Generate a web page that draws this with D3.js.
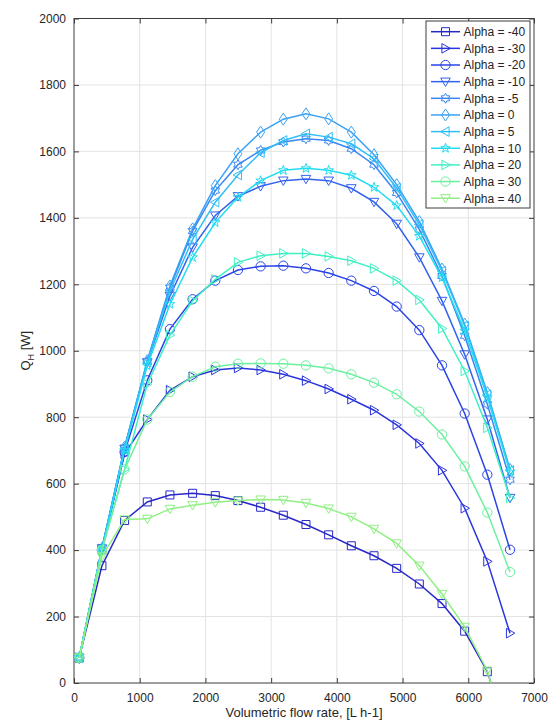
<!DOCTYPE html>
<html>
<head>
<meta charset="utf-8">
<script src="https://cdn.jsdelivr.net/npm/d3@7"></script>
<style>
  body { margin: 0; background: #fff; }
  svg { display: block; font-family: "Liberation Sans", Arial, sans-serif; }
</style>
</head>
<body>
<div id="chart"></div>
<script>
// flow rate points, L/h
const flow = [80, 425, 770, 1115, 1460, 1805, 2150, 2495, 2840, 3185, 3530, 3875, 4220, 4565, 4910, 5255, 5600, 5945, 6290, 6635];

// heat output Q_H [W] per alpha
const alphas = [-40, -30, -20, -10, -5, 0, 5, 10, 20, 30, 40];
const qM40 = [76, 353, 489, 545, 566, 571, 564, 549, 529, 505, 477, 446, 413, 383, 345, 298, 239, 156, 34, -175];
const qM30 = [76, 403, 690, 793, 881, 922, 942, 948, 942, 929, 910, 885, 854, 821, 777, 721, 640, 526, 366, 150];
const qM20 = [76, 400, 695, 911, 1065, 1155, 1211, 1243, 1254, 1256, 1248, 1234, 1211, 1180, 1133, 1062, 956, 811, 627, 401];
const qM10 = [76, 405, 705, 965, 1165, 1311, 1407, 1465, 1495, 1512, 1517, 1512, 1489, 1448, 1382, 1281, 1150, 989, 793, 557];
const qM5 = [76, 405, 708, 968, 1190, 1360, 1482, 1560, 1603, 1628, 1638, 1633, 1608, 1560, 1475, 1365, 1225, 1045, 839, 612];
const q0 = [76, 405, 710, 970, 1195, 1367, 1497, 1593, 1658, 1697, 1713, 1698, 1658, 1590, 1500, 1389, 1246, 1080, 874, 643];
const qP5 = [76, 403, 705, 965, 1180, 1335, 1447, 1529, 1596, 1633, 1653, 1643, 1623, 1578, 1490, 1380, 1240, 1075, 868, 640];
const qP10 = [76, 400, 700, 955, 1140, 1281, 1386, 1462, 1512, 1543, 1549, 1543, 1528, 1492, 1437, 1345, 1220, 1060, 860, 635];
const qP20 = [76, 400, 643, 899, 1047, 1150, 1215, 1266, 1286, 1293, 1293, 1284, 1271, 1248, 1211, 1153, 1067, 939, 768, 557];
const qP30 = [76, 400, 643, 793, 876, 922, 952, 961, 962, 961, 956, 947, 929, 904, 869, 817, 748, 652, 513, 334];
const qP40 = [76, 381, 492, 494, 524, 535, 544, 549, 552, 551, 542, 525, 500, 464, 420, 353, 268, 169, 37, -190];

const xTicks = [0, 1000, 2000, 3000, 4000, 5000, 6000, 7000];
const yTicks = [0, 200, 400, 600, 800, 1000, 1200, 1400, 1600, 1800, 2000];

const series = [
  {a: -40, q: qM40, color: "#2828c8", marker: "square"},
  {a: -30, q: qM30, color: "#2a34dc", marker: "triRight"},
  {a: -20, q: qM20, color: "#2a44e6", marker: "circle"},
  {a: -10, q: qM10, color: "#3262ee", marker: "triDown"},
  {a: -5, q: qM5, color: "#3a86f2", marker: "hexagram"},
  {a: 0, q: q0, color: "#3aa2f6", marker: "diamond"},
  {a: 5, q: qP5, color: "#30bef6", marker: "triLeft"},
  {a: 10, q: qP10, color: "#22dcf0", marker: "pentagram"},
  {a: 20, q: qP20, color: "#40f0c4", marker: "triRight"},
  {a: 30, q: qP30, color: "#6cf0a0", marker: "circle"},
  {a: 40, q: qP40, color: "#90f084", marker: "triDown"}
];

const W = 550, H = 725;
const margin = {top: 18.5, right: 16, bottom: 42, left: 74};
const width = W - margin.left - margin.right,
    height = H - margin.top - margin.bottom;

const svg = d3.select("#chart")
  .append("svg")
    .attr("width", W)
    .attr("height", H);

const g = svg.append("g")
    .attr("transform", `translate(${margin.left}, ${margin.top})`);

const x = d3.scaleLinear().domain([0, 7000]).range([0, width]);
const y = d3.scaleLinear().domain([0, 2000]).range([height, 0]);

// grid
g.append("g").selectAll("line")
  .data(xTicks.slice(1, -1))
  .join("line")
    .attr("x1", d => x(d)).attr("x2", d => x(d))
    .attr("y1", 0).attr("y2", height)
    .attr("stroke", "#e3e3e3");
g.append("g").selectAll("line")
  .data(yTicks.slice(1, -1))
  .join("line")
    .attr("x1", 0).attr("x2", width)
    .attr("y1", d => y(d)).attr("y2", d => y(d))
    .attr("stroke", "#e3e3e3");

// axes (ticks pointing inward, box on)
const axisColor = "#3c3c3c";
const styleAxis = sel => {
  sel.select(".domain").remove();
  sel.selectAll("line").attr("stroke", axisColor);
  sel.selectAll("text").attr("fill", "#262626").style("font-size", "12px");
};
g.append("g")
  .attr("transform", `translate(0, ${height})`)
  .call(d3.axisBottom(x).tickValues(xTicks).tickSize(-5).tickPadding(10).tickFormat(d3.format("d")))
  .call(styleAxis);
g.append("g")
  .call(d3.axisLeft(y).tickValues(yTicks).tickSize(-5).tickPadding(8).tickFormat(d3.format("d")))
  .call(styleAxis);
g.append("g")
  .call(d3.axisTop(x).tickValues(xTicks).tickSize(-5).tickFormat(""))
  .call(styleAxis);
g.append("g")
  .attr("transform", `translate(${width}, 0)`)
  .call(d3.axisRight(y).tickValues(yTicks).tickSize(-5).tickFormat(""))
  .call(styleAxis);
g.append("rect")
  .attr("width", width).attr("height", height)
  .attr("fill", "none").attr("stroke", axisColor);

// marker paths
function markerPath(type, s) {
  const p = d3.path();
  if (type === "square") {
    p.rect(-s * 0.5, -s * 0.5, s, s);
  } else if (type === "circle") {
    p.moveTo(s * 0.58, 0); p.arc(0, 0, s * 0.58, 0, 2 * Math.PI);
  } else if (type === "diamond") {
    p.moveTo(0, -s * 0.75); p.lineTo(s * 0.5, 0); p.lineTo(0, s * 0.75); p.lineTo(-s * 0.5, 0); p.closePath();
  } else if (type === "triDown") {
    p.moveTo(-s * 0.6, -s * 0.45); p.lineTo(s * 0.6, -s * 0.45); p.lineTo(0, s * 0.6); p.closePath();
  } else if (type === "triRight") {
    p.moveTo(-s * 0.45, -s * 0.6); p.lineTo(s * 0.6, 0); p.lineTo(-s * 0.45, s * 0.6); p.closePath();
  } else if (type === "triLeft") {
    p.moveTo(s * 0.45, -s * 0.6); p.lineTo(-s * 0.6, 0); p.lineTo(s * 0.45, s * 0.6); p.closePath();
  } else if (type === "pentagram" || type === "hexagram") {
    const n = type === "pentagram" ? 5 : 6;
    const ro = s * 0.62, ri = type === "pentagram" ? ro * 0.4 : ro * 0.58;
    for (let i = 0; i < 2 * n; i++) {
      const r = i % 2 === 0 ? ro : ri;
      const ang = -Math.PI / 2 + i * Math.PI / n;
      if (i === 0) p.moveTo(r * Math.cos(ang), r * Math.sin(ang));
      else p.lineTo(r * Math.cos(ang), r * Math.sin(ang));
    }
    p.closePath();
  }
  return p.toString();
}

// clip to plot area
svg.append("defs").append("clipPath").attr("id", "plotclip")
  .append("rect").attr("width", width).attr("height", height);

const plot = g.append("g").attr("clip-path", "url(#plotclip)");
const line = d3.line().x((d, i) => x(flow[i])).y(d => y(d));

series.forEach(s => {
  const sg = plot.append("g");
  sg.append("path")
    .datum(s.q)
    .attr("d", line)
    .attr("fill", "none")
    .attr("stroke", s.color)
    .attr("stroke-width", 1.5);
  sg.selectAll("path.mk")
    .data(s.q)
    .join("path")
      .attr("class", "mk")
      .attr("transform", (d, i) => `translate(${x(flow[i])}, ${y(d)})`)
      .attr("d", markerPath(s.marker, 8))
      .attr("fill", "none")
      .attr("stroke", s.color)
      .attr("stroke-width", 1);
});

// axis labels
svg.append("text")
  .attr("x", margin.left + width / 2)
  .attr("y", 717)
  .attr("text-anchor", "middle")
  .attr("fill", "#262626")
  .style("font-size", "13px")
  .text("Volumetric flow rate, [L h-1]");

const yl = svg.append("text")
  .attr("transform", `translate(30, ${margin.top + height / 2}) rotate(-90)`)
  .attr("text-anchor", "middle")
  .attr("fill", "#262626")
  .style("font-size", "13px");
yl.append("tspan").text("Q");
yl.append("tspan").attr("dy", 4).style("font-size", "9px").text("H");
yl.append("tspan").attr("dy", -4).text(" [W]");

// legend
const lg = svg.append("g").attr("transform", "translate(426, 21)");
lg.append("rect")
  .attr("width", 104).attr("height", 187)
  .attr("fill", "#fff").attr("stroke", "#3c3c3c");
const items = lg.selectAll("g.item")
  .data(series)
  .join("g")
    .attr("class", "item")
    .attr("transform", (d, i) => `translate(0, ${10.7 + i * 16.65})`);
items.append("line")
  .attr("x1", 5).attr("x2", 34)
  .attr("stroke", d => d.color).attr("stroke-width", 1.5);
items.append("path")
  .attr("transform", "translate(19.5, 0)")
  .attr("d", d => markerPath(d.marker, 8))
  .attr("fill", "none")
  .attr("stroke", d => d.color);
items.append("text")
  .attr("x", 37.5).attr("y", 4.3)
  .attr("fill", "#262626")
  .style("font-size", "12px")
  .text(d => "Alpha = " + d.a);
</script>
</body>
</html>
